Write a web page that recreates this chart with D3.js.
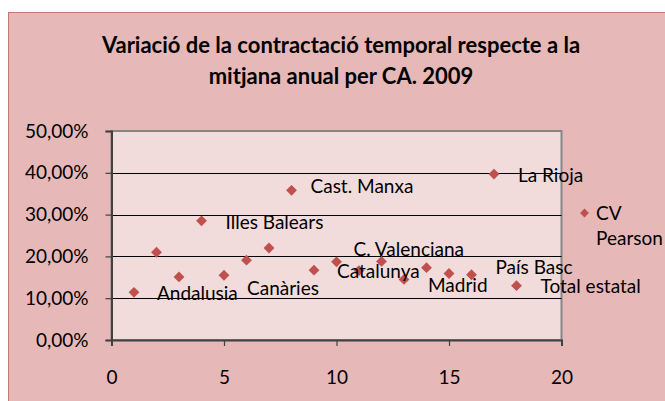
<!DOCTYPE html>
<html>
<head>
<meta charset="utf-8">
<script src="https://cdn.jsdelivr.net/npm/d3@7"></script>
<style>
  html, body { margin: 0; padding: 0; background: #fff; }
  svg { display: block; font-family: Lato, "Open Sans", sans-serif; }
</style>
</head>
<body>
<svg id="chart" width="665" height="401"></svg>
<script>
// Series: x = index of the comunitat, y = variació (fraction)
const xValues = [1, 2, 3, 4, 5, 6, 7, 8, 9, 10, 11, 12, 13, 14, 15, 16, 17, 18];
const yValues = [0.114, 0.210, 0.151, 0.285, 0.155, 0.191, 0.220, 0.358, 0.167,
                 0.187, 0.166, 0.188, 0.145, 0.173, 0.159, 0.156, 0.397, 0.130];

// Data labels: which point each name belongs to
const labelNames  = ['Andalusia', 'Illes Balears', 'Canàries', 'Cast. Manxa', 'Catalunya',
                     'C. Valenciana', 'Madrid', 'País Basc', 'La Rioja', 'Total estatal'];
const labelPoints = [0, 3, 4, 7, 8, 9, 12, 15, 16, 17];
// pixel offsets of the labels from their points (as moved by hand in the original)
const labelOffsets = [[23, 1], [24, 1], [23, 13], [19, -4], [23, 1],
                      [17, -12], [24, 6], [24, -7], [24, 1], [24, 1]];

const xTicks = [0, 5, 10, 15, 20];
const yTicks = [0, 0.1, 0.2, 0.3, 0.4, 0.5];
const titleLines = ['Variació de la contractació temporal respecte a la', 'mitjana anual per CA. 2009'];
const legendLines = ['CV', 'Pearson'];

const svg = d3.select('#chart');
const red = '#C0504D';
const FS = 19; // body text size

// chart area background
svg.append('rect')
  .attr('x', 8.5).attr('y', 12.5)
  .attr('width', 680).attr('height', 400)
  .attr('fill', '#E6B9B8')
  .attr('stroke', '#C97573')
  .attr('stroke-width', 1);

// Title
svg.append('g').selectAll('text')
  .data(titleLines)
  .enter().append('text')
  .attr('x', 341)
  .attr('y', (d, i) => 45 + i * 31.5)
  .attr('dy', '0.35em')
  .attr('text-anchor', 'middle')
  .attr('font-weight', 'bold')
  .attr('font-size', 22)
  .attr('fill', '#000')
  .text(d => d);

const x = d3.scaleLinear().domain([0, 20]).range([111.5, 561.5]);
const y = d3.scaleLinear().domain([0, 0.5]).range([340, 131]);

// plot area
svg.append('rect')
  .attr('x', x(0)).attr('y', y(0.5))
  .attr('width', x(20) - x(0)).attr('height', y(0) - y(0.5))
  .attr('fill', '#F2DCDB')
  .attr('stroke', '#868686')
  .attr('stroke-width', 2);

// gridlines
svg.append('g').selectAll('line')
  .data(yTicks.filter(t => t > 0 && t < 0.5))
  .enter().append('line')
  .attr('x1', x(0)).attr('x2', x(20))
  .attr('y1', d => Math.round(y(d)) + 0.5).attr('y2', d => Math.round(y(d)) + 0.5)
  .attr('stroke', '#000')
  .attr('stroke-width', 1);

const locale = d3.formatLocale({ decimal: ',', thousands: '.', grouping: [3], currency: ['', '€'] });
const pct = locale.format('.2%');

// y axis
const yAxis = svg.append('g')
  .attr('transform', `translate(${x(0)},0)`)
  .call(d3.axisLeft(y).tickValues(yTicks).tickFormat(pct).tickSize(6).tickPadding(17));
yAxis.select('.domain').attr('stroke', '#404040').attr('stroke-width', 2);
yAxis.selectAll('.tick line').attr('stroke', '#404040').attr('stroke-width', 1.2);
yAxis.selectAll('.tick text').attr('font-size', FS).attr('font-family', 'Lato').attr('fill', '#000');

// x axis
const xAxis = svg.append('g')
  .attr('transform', `translate(0,${y(0)})`)
  .call(d3.axisBottom(x).tickValues(xTicks).tickSize(6).tickPadding(25));
xAxis.select('.domain').attr('stroke', '#404040').attr('stroke-width', 2);
xAxis.selectAll('.tick line').attr('stroke', '#404040').attr('stroke-width', 1.2);
xAxis.selectAll('.tick text').attr('font-size', FS).attr('font-family', 'Lato').attr('fill', '#000');

// markers
const diamond = d3.symbol().type(d3.symbolDiamond2).size(75);
svg.append('g').selectAll('path')
  .data(xValues.map((v, i) => [v, yValues[i]]))
  .enter().append('path')
  .attr('d', diamond)
  .attr('transform', d => `translate(${x(d[0])},${y(d[1])})`)
  .attr('fill', red);

// data labels
svg.append('g').selectAll('text')
  .data(labelNames)
  .enter().append('text')
  .attr('x', (d, i) => x(xValues[labelPoints[i]]) + labelOffsets[i][0])
  .attr('y', (d, i) => y(yValues[labelPoints[i]]) + labelOffsets[i][1])
  .attr('dy', '0.35em')
  .attr('font-size', FS)
  .attr('fill', '#000')
  .text(d => d);

// legend
const legend = svg.append('g').attr('transform', 'translate(584.5,213)');
legend.append('path')
  .attr('d', d3.symbol().type(d3.symbolDiamond2).size(50))
  .attr('fill', red);
legend.selectAll('text')
  .data(legendLines)
  .enter().append('text')
  .attr('x', 11.5)
  .attr('y', (d, i) => i * 25.5)
  .attr('dy', '0.35em')
  .attr('font-size', FS)
  .attr('fill', '#000')
  .text(d => d);
</script>
</body>
</html>
